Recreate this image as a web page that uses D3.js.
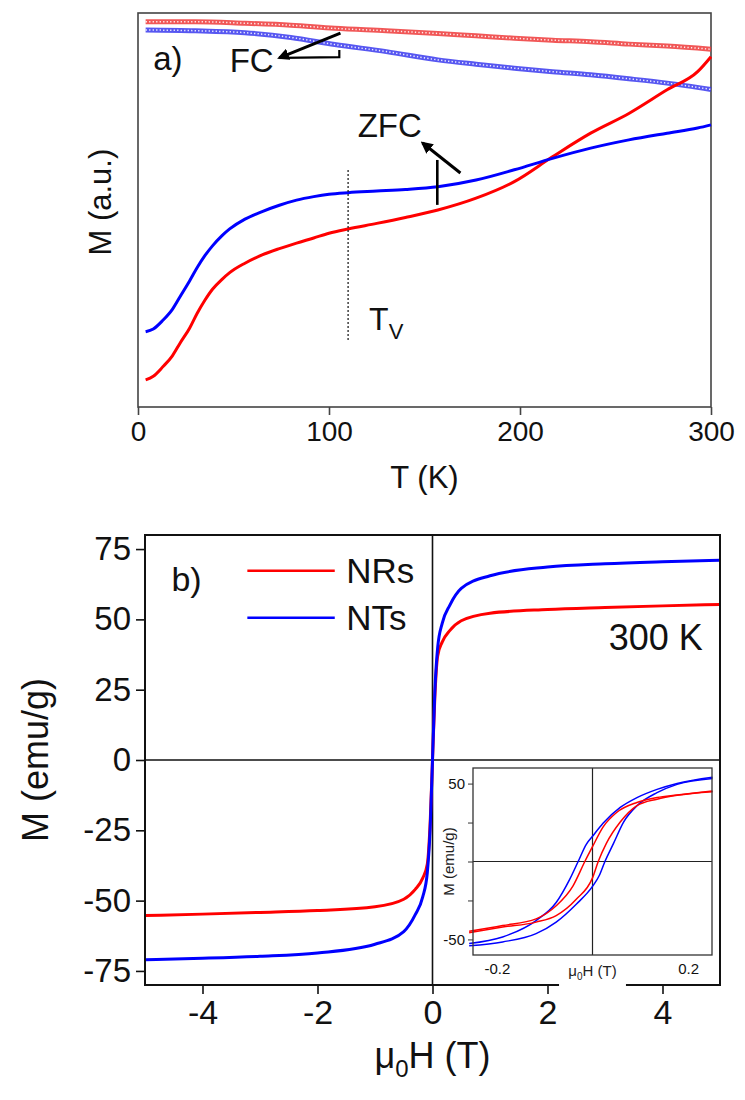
<!DOCTYPE html>
<html><head><meta charset="utf-8">
<script src="https://cdn.jsdelivr.net/npm/d3@7/dist/d3.min.js"></script>
<style>body{margin:0;background:#fff}svg{display:block}text{font-family:"Liberation Sans",Arial,sans-serif}</style>
</head><body><svg id="c" width="745" height="1100"></svg>
<script>
// ---------- Panel a data (arbitrary units 0..100) ----------
const T_zfc = [4,8,13,18,22,27,31,35,39,44,48,56,65,74,83,92,100,110,125,140,157,177,197,217,237,257,277,293,300];
const zfcNRs = [6.9,7.8,10.2,13,16.2,20,23.8,27.1,29.9,32.4,34.1,36.5,38.6,40.2,41.6,42.9,44.1,45.2,46.6,48.1,50,53,57.2,63.5,69.5,74.5,80.5,85.1,88.9];
const zfcNTs = [19.1,19.8,22,24.8,28,32,35.4,38.4,40.9,43.5,45.2,47.7,49.6,51.2,52.5,53.4,54,54.4,54.8,55.2,55.9,57.6,60.2,63.1,65.7,67.8,69.5,70.8,71.6];
const T_fc = [4,30,56,80,103,130,157,177,197,217,237,257,277,300];
const fcNRs = [97.8,97.8,97.4,96.9,96.1,95.5,94.8,94.2,93.6,93.1,92.7,92.1,91.6,90.8];
const fcNTs = [95.7,95.5,95.0,93.8,92.0,90.2,88.1,87.0,86.0,85.1,84.3,83.3,82.2,80.6];
const ticksT = [0,100,200,300];
const T_verwey = 110;

// ---------- Panel b data ----------
const H = [-5,-4,-3,-2,-1,-0.5,-0.3,-0.17,-0.09,-0.04,0,0.04,0.09,0.17,0.3,0.5,1,2,3,4,5];
const mNTs = [-71,-70.5,-69.8,-68.6,-65.5,-61,-55,-48.7,-40,-24,0,24,40,48.7,55,61,65.5,68.6,69.8,70.5,71];
const mNRs = [-55.3,-54.8,-54.2,-53.5,-52.2,-49.5,-46,-42,-37,-22,0,22,37,42,46,49.5,52.2,53.5,54.2,54.8,55.3];
const ticksM = [-75,-50,-25,0,25,50,75];
const ticksH = [-4,-2,0,2,4];

// ---------- Inset data (hysteresis branches) ----------
const Hi = [-0.258,-0.188,-0.118,-0.076,-0.048,-0.030,-0.013,0.001,0.022,0.058,0.093,0.135,0.177,0.251];
const ntDown = [-52.6,-48.4,-37.9,-26.3,-11.6,0,11,16.5,24.5,34.7,41,46.3,50.1,54.1];
const HiUp = [-0.258,-0.188,-0.118,-0.076,-0.034,0,0.015,0.026,0.044,0.065,0.093,0.135,0.177,0.251];
const ntUp = [-54.1,-51.6,-46.3,-38.9,-27.4,-16,-8.5,0,11.6,25.3,35.8,44.2,49.5,53.3];
const HrDown = [-0.258,-0.188,-0.118,-0.076,-0.041,-0.016,0,0.022,0.051,0.093,0.135,0.177,0.251];
const nrDown = [-44.8,-41.1,-36.8,-28.4,-15.8,0,9.5,22.1,31.6,37.9,41.1,42.7,45.3];
const HrUp = [-0.258,-0.188,-0.118,-0.076,-0.034,0,0.012,0.029,0.058,0.093,0.135,0.177,0.251];
const nrUp = [-45.7,-42.1,-38.9,-34.7,-24.2,-10.5,0,11.6,25.3,35.8,40,42.5,44.8];
const ticksMi = [-50,-25,0,25,50];
const ticksHi = [-0.2,0.2];

const RED = "#ff0000", BLUE = "#0000ff", FONT = '"Liberation Sans", Arial, sans-serif';
const hyph = f => d => f(d).replace("\u2212","-");
const svg = d3.select("#c");
const defs = svg.append("defs");
defs.append("marker").attr("id","ah").attr("viewBox","0 0 10 10").attr("refX",8).attr("refY",5)
  .attr("markerWidth",4).attr("markerHeight",4).attr("orient","auto")
  .append("path").attr("d","M0,0L10,5L0,10z").attr("fill","#000");

function styleAxis(g, fs, col){
  g.attr("font-family",FONT);
  g.select(".domain").remove();
  g.selectAll("text").attr("font-size",fs).attr("fill","#111");
  g.selectAll("line").attr("stroke",col).attr("stroke-width",1.6);
}

// ================= Panel a =================
const xa = d3.scaleLinear().domain([0,300]).range([138,711]);
const ya = d3.scaleLinear().domain([0,100]).range([407,13]);
const ga = svg.append("g");
ga.append("rect").attr("x",xa(0)).attr("y",ya(100)).attr("width",xa(300)-xa(0)).attr("height",ya(0)-ya(100))
  .attr("fill","none").attr("stroke","#444").attr("stroke-width",1.6);
ga.append("g").attr("transform",`translate(0,${ya(0)})`)
  .call(d3.axisBottom(xa).tickValues(ticksT).tickSize(8).tickPadding(6).tickFormat(d3.format("d")))
  .call(g=>styleAxis(g,28,"#444"));
ga.append("text").attr("x",(xa(0)+xa(300))/2).attr("y",488).attr("text-anchor","middle").attr("font-size",31).attr("fill","#111").text("T (K)");
ga.append("text").attr("transform",`translate(111,${ya(52)}) rotate(-90)`).attr("text-anchor","middle").attr("font-size",31).attr("fill","#111").text("M (a.u.)");

const lineA = d3.line().x(d=>xa(d[0])).y(d=>ya(d[1])).curve(d3.curveMonotoneX);
[[fcNRs,"#ef3a3a"],[fcNTs,"#3a3aef"]].forEach(([m,c])=>{
  const data = d3.zip(T_fc,m);
  ga.append("path").datum(data).attr("d",lineA).attr("fill","none").attr("stroke",c).attr("stroke-width",5).attr("opacity",0.85);
  ga.append("path").datum(data).attr("d",lineA).attr("fill","none").attr("stroke","#fff").attr("stroke-width",1.5).attr("stroke-dasharray","1.3 2.2").attr("opacity",0.9);
});
ga.append("path").datum(d3.zip(T_zfc,zfcNRs)).attr("d",lineA).attr("fill","none").attr("stroke",RED).attr("stroke-width",3);
ga.append("path").datum(d3.zip(T_zfc,zfcNTs)).attr("d",lineA).attr("fill","none").attr("stroke",BLUE).attr("stroke-width",3);

// Verwey line
ga.append("line").attr("x1",xa(T_verwey)).attr("x2",xa(T_verwey)).attr("y1",ya(17)).attr("y2",ya(60.2))
  .attr("stroke","#222").attr("stroke-width",1.3).attr("stroke-dasharray","2 2");
const tv = ga.append("text").attr("x",xa(121)).attr("y",ya(19.5)).attr("font-size",32).attr("fill","#111");
tv.append("tspan").text("T");
tv.append("tspan").attr("font-size",22).attr("dy",9).text("V");

// labels & arrows
ga.append("text").attr("x",xa(8)).attr("y",ya(85.5)).attr("font-size",33).attr("fill","#111").text("a)");
ga.append("text").attr("x",xa(48)).attr("y",ya(85)).attr("font-size",33).attr("fill","#111").text("FC");
ga.append("line").attr("x1",xa(106)).attr("y1",ya(94.9)).attr("x2",xa(74)).attr("y2",ya(88.6))
  .attr("stroke","#000").attr("stroke-width",3).attr("marker-end","url(#ah)");
ga.append("polyline").attr("points",[[xa(75),ya(88.6)],[xa(105.4),ya(88.8)],[xa(105.4),ya(90.6)]].map(p=>p.join(",")).join(" "))
  .attr("fill","none").attr("stroke","#000").attr("stroke-width",2.2);
ga.append("text").attr("x",xa(115)).attr("y",ya(68.5)).attr("font-size",33).attr("fill","#111").text("ZFC");
ga.append("line").attr("x1",xa(156.7)).attr("y1",ya(51.3)).attr("x2",xa(156.7)).attr("y2",ya(62.7)).attr("stroke","#000").attr("stroke-width",2.6);
ga.append("line").attr("x1",xa(168.8)).attr("y1",ya(59.4)).attr("x2",xa(149)).attr("y2",ya(67))
  .attr("stroke","#000").attr("stroke-width",3).attr("marker-end","url(#ah)");

// ================= Panel b =================
const xb = d3.scaleLinear().domain([-5,5]).range([145,720]);
const yb = d3.scaleLinear().domain([-80,80]).range([985,535]);
const gb = svg.append("g");
gb.append("defs").append("clipPath").attr("id","cb").append("rect")
  .attr("x",xb(-5)).attr("y",yb(80)).attr("width",xb(5)-xb(-5)).attr("height",yb(-80)-yb(80));
gb.append("line").attr("x1",xb(0)).attr("x2",xb(0)).attr("y1",yb(80)).attr("y2",yb(-80)).attr("stroke","#111").attr("stroke-width",1.6);
gb.append("line").attr("x1",xb(-5)).attr("x2",xb(5)).attr("y1",yb(0)).attr("y2",yb(0)).attr("stroke","#111").attr("stroke-width",1.6);
gb.append("g").attr("transform",`translate(${xb(-5)},0)`)
  .call(d3.axisLeft(yb).tickValues(ticksM).tickSize(9).tickPadding(5).tickFormat(hyph(d3.format("d"))))
  .call(g=>styleAxis(g,33,"#111"));
gb.append("g").attr("transform",`translate(0,${yb(-80)})`)
  .call(d3.axisBottom(xb).tickValues(ticksH).tickSize(9).tickPadding(6).tickFormat(hyph(d3.format("d"))))
  .call(g=>styleAxis(g,34,"#111"));
const lineB = d3.line().x(d=>xb(d[0])).y(d=>yb(d[1])).curve(d3.curveMonotoneX);
gb.append("path").datum(d3.zip(H,mNRs)).attr("d",lineB).attr("clip-path","url(#cb)").attr("fill","none").attr("stroke",RED).attr("stroke-width",3);
gb.append("path").datum(d3.zip(H,mNTs)).attr("d",lineB).attr("clip-path","url(#cb)").attr("fill","none").attr("stroke",BLUE).attr("stroke-width",3);
gb.append("text").attr("transform",`translate(48,${yb(0)}) rotate(-90)`).attr("text-anchor","middle").attr("font-size",36).attr("fill","#111").text("M (emu/g)");
const xt = gb.append("text").attr("x",xb(0)).attr("y",1068).attr("text-anchor","middle").attr("font-size",36).attr("fill","#111");
xt.append("tspan").text("\u03bc");
xt.append("tspan").attr("font-size",24).attr("dy",9).text("0");
xt.append("tspan").attr("dy",-9).text("H (T)");

// legend
gb.append("text").attr("x",xb(-4.54)).attr("y",yb(64.3)+12).attr("font-size",34).attr("fill","#111").text("b)");
[["NRs",RED,67.3],["NTs",BLUE,50.6]].forEach(([t,c,m])=>{
  gb.append("line").attr("x1",xb(-3.22)).attr("x2",xb(-1.7)).attr("y1",yb(m)).attr("y2",yb(m)).attr("stroke",c).attr("stroke-width",2.5);
  gb.append("text").attr("x",xb(-1.5)).attr("y",yb(m)+12).attr("font-size",35).attr("fill","#111").text(t);
});
gb.append("text").attr("x",xb(4.7)).attr("y",yb(39)).attr("text-anchor","end").attr("font-size",36).attr("fill","#111").text("300 K");
gb.append("rect").attr("x",xb(-5)).attr("y",yb(80)).attr("width",xb(5)-xb(-5)).attr("height",yb(-80)-yb(80))
  .attr("fill","none").attr("stroke","#111").attr("stroke-width",2);

// ================= Inset =================
const xi = d3.scaleLinear().domain([-0.25,0.25]).range([473,712]);
const yi = d3.scaleLinear().domain([-60,60]).range([955,768]);
const gi = svg.append("g");
gi.append("rect").attr("x",xi(-0.25)).attr("y",yi(60)).attr("width",xi(0.25)-xi(-0.25)).attr("height",yi(-60)-yi(60)).attr("fill","#fff");
gi.append("line").attr("x1",xi(0)).attr("x2",xi(0)).attr("y1",yi(60)).attr("y2",yi(-60)).attr("stroke","#222").attr("stroke-width",1.2);
gi.append("line").attr("x1",xi(-0.25)).attr("x2",xi(0.25)).attr("y1",yi(0)).attr("y2",yi(0)).attr("stroke","#222").attr("stroke-width",1.2);
gi.append("g").attr("transform",`translate(${xi(-0.25)},0)`)
  .call(d3.axisLeft(yi).tickValues(ticksMi).tickSize(5).tickPadding(3).tickFormat(d=>Math.abs(d)===50?String(d):""))
  .call(g=>styleAxis(g,15,"#333")).call(g=>g.selectAll("line").attr("stroke-width",1));
const lineI = d3.line().x(d=>xi(d[0])).y(d=>yi(d[1])).curve(d3.curveMonotoneX);
[[Hi,ntDown,BLUE],[HiUp,ntUp,BLUE],[HrDown,nrDown,RED],[HrUp,nrUp,RED]].forEach(([hx,my,c])=>{
  gi.append("path").datum(d3.zip(hx,my)).attr("d",lineI).attr("fill","none").attr("stroke",c).attr("stroke-width",1.5);
});
gi.append("rect").attr("x",xi(-0.25)).attr("y",yi(60)).attr("width",xi(0.25)-xi(-0.25)).attr("height",yi(-60)-yi(60))
  .attr("fill","none").attr("stroke","#333").attr("stroke-width",1.3);
gi.append("rect").attr("x",xi(-0.07)).attr("y",yi(-60)+4).attr("width",xi(0.07)-xi(-0.07)).attr("height",30).attr("fill","#fff");
gi.append("g").attr("transform",`translate(0,${yi(-60)})`)
  .call(d3.axisBottom(xi).tickValues(ticksHi).tickSize(0).tickPadding(8).tickFormat(hyph(d3.format(".1f"))))
  .call(g=>styleAxis(g,15,"#333"));
const xti = gi.append("text").attr("x",xi(0)).attr("y",yi(-60)+21).attr("text-anchor","middle").attr("font-size",15).attr("fill","#222");
xti.append("tspan").text("\u03bc");
xti.append("tspan").attr("font-size",10).attr("dy",4).text("0");
xti.append("tspan").attr("dy",-4).text("H (T)");
gi.append("text").attr("transform",`translate(${xi(-0.25)-19},${yi(0)}) rotate(-90)`).attr("text-anchor","middle").attr("font-size",15).attr("fill","#222").text("M (emu/g)");
</script></body></html>
